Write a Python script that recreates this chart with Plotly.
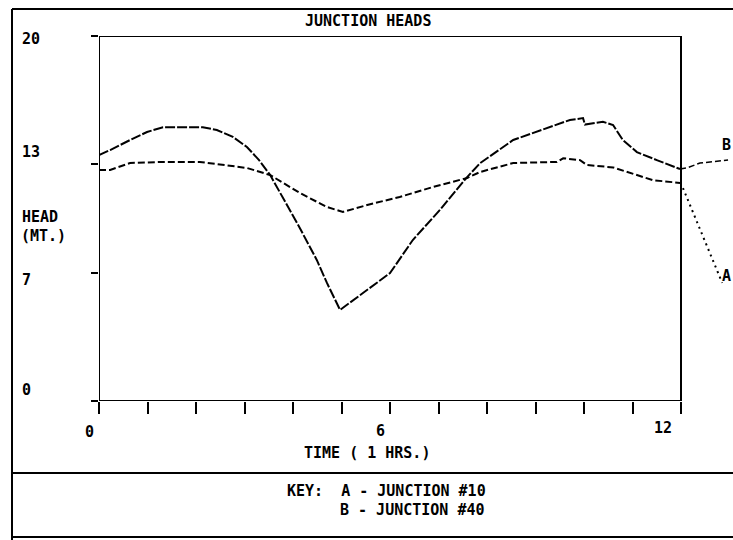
import plotly.graph_objects as go

# ---------------- data ----------------
time_a = [0, 0.23, 0.64, 0.99, 1.32, 2.14, 2.43, 2.76, 3.05, 3.3, 3.53, 4.14, 4.49, 4.7, 4.97,
          5.53, 6.0, 6.47, 7.03, 7.59, 7.86, 8.54, 9.24, 9.71, 9.98, 10.02, 10.39, 10.6, 10.8,
          11.09, 11.5, 11.98]
head_a = [13.48, 13.75, 14.3, 14.74, 15.0, 15.0, 14.85, 14.47, 13.92, 13.2, 12.38, 9.48, 7.73,
          6.47, 4.99, 6.08, 7.01, 8.82, 10.47, 12.27, 13.04, 14.3, 14.96, 15.4, 15.5, 15.15,
          15.3, 15.12, 14.3, 13.64, 13.2, 12.71]

time_b = [0, 0.23, 0.64, 1.32, 2.08, 2.76, 3.05, 3.53, 4.14, 4.7, 5.03, 5.53, 6.2, 6.89, 7.59,
          7.86, 8.54, 9.44, 9.57, 9.92, 10.06, 10.6, 10.95, 11.42, 11.98]
head_b = [12.66, 12.66, 13.04, 13.1, 13.1, 12.85, 12.77, 12.38, 11.4, 10.63, 10.36, 10.74,
          11.18, 11.73, 12.22, 12.55, 13.04, 13.1, 13.3, 13.2, 12.93, 12.8, 12.5, 12.1, 11.95]

# leader lines to the curve labels at the right
lead_b_time = [11.98, 12.12, 12.39, 12.8, 12.97]
lead_b_head = [12.71, 12.77, 13.04, 13.15, 13.2]
lead_a_time = [12.04, 12.85]
lead_a_head = [11.67, 6.47]

y_tick_vals = [0, 7, 13, 20]
y_tick_text = ["0", "7", "13", "20"]
x_tick_vals = list(range(0, 13))
x_label_vals = [0, 6, 12]
x_label_text = ["0", "6", "12"]

title_text = "JUNCTION HEADS"
x_title = "TIME ( 1 HRS.)"
y_title = ["HEAD", "(MT.)"]
key_lines = ["KEY:  A - JUNCTION #10", "B - JUNCTION #40"]
curve_labels = ["B", "A"]

# ---------------- layout helpers ----------------
W, H = 733, 540
ML, MR, MT, MB = 99, 0, 36, 139
PW, PH = W - ML - MR, H - MT - MB
PX_PER_HR = 48.5
X_MAX = PW / PX_PER_HR


def pxx(px):
    return (px - ML) / PW


def pxy(py):
    return (H - MB - py) / PH


FONT = dict(family="DejaVu Sans Mono, Liberation Mono, monospace", size=15, color="black")
BOLD = lambda s: "<b>" + s + "</b>"

fig = go.Figure()
fig.add_trace(go.Scatter(x=time_a, y=head_a, mode="lines",
                         line=dict(color="black", width=2, dash="10px,2px"), hoverinfo="skip"))
fig.add_trace(go.Scatter(x=time_b, y=head_b, mode="lines",
                         line=dict(color="black", width=2, dash="7px,3px"), hoverinfo="skip"))
fig.add_trace(go.Scatter(x=lead_b_time, y=lead_b_head, mode="lines",
                         line=dict(color="black", width=1.5, dash="6px,3px"), hoverinfo="skip"))
fig.add_trace(go.Scatter(x=lead_a_time, y=lead_a_head, mode="lines",
                         line=dict(color="black", width=2, dash="2px,4px"), hoverinfo="skip"))

# plot frame (box from 0..12 hours, 0..20 m)
fig.add_shape(type="rect", xref="x", yref="y", x0=0, x1=12, y0=0, y1=20,
              line=dict(color="black", width=2))

# outer page frame
frame_lines = [
    (12, 9, 12, 540), (12, 9, 733, 9), (12, 473, 733, 473), (12, 537, 733, 537),
]
for x0, y0, x1, y1 in frame_lines:
    fig.add_shape(type="line", xref="paper", yref="paper", x0=pxx(x0), x1=pxx(x1),
                  y0=pxy(y0), y1=pxy(y1), line=dict(color="black", width=2))

ann = []
# y tick labels
y_shift = {0: 11, 7: -7, 13: 12, 20: -3}
for v, t in zip(y_tick_vals, y_tick_text):
    ann.append(dict(x=pxx(20), xref="paper", y=v, yref="y", yshift=y_shift[v],
                    text=BOLD(t), showarrow=False, xanchor="left", yanchor="middle", font=FONT))
# x tick labels
x_shift = {0: -10, 6: -10, 12: -18}
x_lab_y = {0: 432, 6: 431, 12: 428}
for v, t in zip(x_label_vals, x_label_text):
    ann.append(dict(x=v, xref="x", xshift=x_shift[v], y=pxy(x_lab_y[v]), yref="paper",
                    text=BOLD(t), showarrow=False, xanchor="center", yanchor="middle", font=FONT))
# y-axis title
ann.append(dict(x=pxx(20), xref="paper", y=pxy(217), yref="paper", text=BOLD(y_title[0]),
                showarrow=False, xanchor="left", yanchor="middle", font=FONT))
ann.append(dict(x=pxx(19), xref="paper", y=pxy(236), yref="paper", text=BOLD(y_title[1]),
                showarrow=False, xanchor="left", yanchor="middle", font=FONT))
# chart title
ann.append(dict(x=pxx(368), xref="paper", y=pxy(21), yref="paper", text=BOLD(title_text),
                showarrow=False, xanchor="center", yanchor="middle", font=FONT))
# x title
ann.append(dict(x=pxx(367), xref="paper", y=pxy(453), yref="paper", text=BOLD(x_title),
                showarrow=False, xanchor="center", yanchor="middle", font=FONT))
# key
ann.append(dict(x=pxx(285), xref="paper", y=pxy(491), yref="paper", text=BOLD(key_lines[0]),
                showarrow=False, xanchor="left", yanchor="middle", font=FONT))
ann.append(dict(x=pxx(338), xref="paper", y=pxy(510), yref="paper", text=BOLD(key_lines[1]),
                showarrow=False, xanchor="left", yanchor="middle", font=FONT))
# curve labels at right
ann.append(dict(x=pxx(733), xref="paper", y=pxy(145), yref="paper", text=BOLD(curve_labels[0]),
                showarrow=False, xanchor="right", yanchor="middle", font=FONT))
ann.append(dict(x=pxx(733), xref="paper", y=pxy(276), yref="paper", text=BOLD(curve_labels[1]),
                showarrow=False, xanchor="right", yanchor="middle", font=FONT))

fig.update_layout(
    width=W, height=H, autosize=False,
    margin=dict(l=ML, r=MR, t=MT, b=MB, pad=0),
    paper_bgcolor="white", plot_bgcolor="white",
    showlegend=False,
    annotations=ann,
    xaxis=dict(range=[0, X_MAX], showgrid=False, zeroline=False, showline=False,
               tickmode="array", tickvals=x_tick_vals, ticks="outside", ticklen=12,
               tickwidth=1.5, tickcolor="black", showticklabels=False, fixedrange=True),
    yaxis=dict(range=[0, 20], showgrid=False, zeroline=False, showline=False,
               tickmode="array", tickvals=y_tick_vals, ticks="outside", ticklen=7,
               tickwidth=2, tickcolor="black", showticklabels=False, fixedrange=True),
)

fig.write_html("out.html", config={"displayModeBar": False},
               post_script="document.body.style.margin='0px';document.body.style.overflow='hidden';")
